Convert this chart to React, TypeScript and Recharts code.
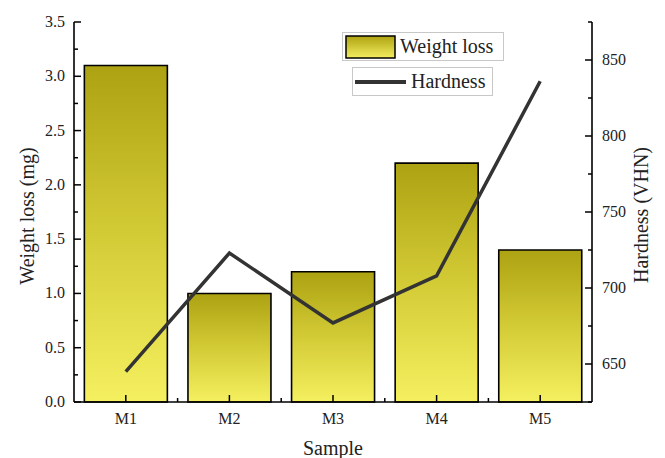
import React from 'react';
import {
  ComposedChart,
  Bar,
  Line,
  XAxis,
  YAxis,
  Legend,
} from 'recharts';

const samples = ['M1', 'M2', 'M3', 'M4', 'M5'];
const weightLoss = [3.1, 1.0, 1.2, 2.2, 1.4];
const hardness = [645, 723, 677, 708, 836];

const leftTicks = [0, 0.25, 0.5, 0.75, 1, 1.25, 1.5, 1.75, 2, 2.25, 2.5, 2.75, 3, 3.25, 3.5];
const rightTicks = [625, 650, 675, 700, 725, 750, 775, 800, 825, 850, 875];

const data = samples.map((s, i) => ({
  sample: s,
  weightLoss: weightLoss[i],
  hardness: hardness[i],
}));

const FONT = '"Liberation Serif", "Times New Roman", serif';
const TEXT = '#222';

const LeftTick = (props: any) => {
  const { x, y, payload } = props;
  const v = payload.value;
  const major = Math.abs(v * 2 - Math.round(v * 2)) < 1e-6;
  return (
    <g>
      <line x1={x} x2={x + (major ? 7 : 4)} y1={y} y2={y} stroke="#000" strokeWidth={1.5} />
      {major && (
        <text x={x - 9} y={y + 5} textAnchor="end" fontSize={16} fill={TEXT} fontFamily={FONT}>
          {v.toFixed(1)}
        </text>
      )}
    </g>
  );
};

const RightTick = (props: any) => {
  const { x, y, payload } = props;
  const v = payload.value;
  const major = v % 50 === 0;
  return (
    <g>
      <line x1={x} x2={x - (major ? 7 : 4)} y1={y} y2={y} stroke="#000" strokeWidth={1.5} />
      {major && (
        <text x={x + 10} y={y + 5} textAnchor="start" fontSize={16} fill={TEXT} fontFamily={FONT}>
          {v}
        </text>
      )}
    </g>
  );
};

const halfBand = (props: any) => {
  const { payload, width, visibleTicksCount } = props;
  if (payload && payload.offset) return payload.offset;
  return width / visibleTicksCount / 2;
};

const BottomTick = (props: any) => {
  const { x, y, payload, index, visibleTicksCount } = props;
  const hb = halfBand(props);
  return (
    <g>
      <line x1={x} x2={x} y1={y} y2={y - 7} stroke="#000" strokeWidth={1.5} />
      {index < visibleTicksCount - 1 && (
        <line x1={x + hb} x2={x + hb} y1={y} y2={y - 4} stroke="#000" strokeWidth={1.5} />
      )}
      <text x={x} y={y + 22} textAnchor="middle" fontSize={16} fill={TEXT} fontFamily={FONT}>
        {payload.value}
      </text>
    </g>
  );
};

const TopTick = (props: any) => {
  const { x, y, index, visibleTicksCount } = props;
  const hb = halfBand(props);
  return (
    <g>
      <line x1={x} x2={x} y1={y} y2={y + 7} stroke="#000" strokeWidth={1.5} />
      {index < visibleTicksCount - 1 && (
        <line x1={x + hb} x2={x + hb} y1={y} y2={y + 4} stroke="#000" strokeWidth={1.5} />
      )}
    </g>
  );
};

const renderLegend = () => (
  <div style={{ position: 'relative', fontFamily: FONT, color: TEXT, fontSize: 20 }}>
    <div
      style={{
        position: 'absolute',
        left: 0,
        top: 0,
        width: 160,
        height: 27,
        border: '1px solid #c8c8c8',
        background: '#fff',
        display: 'flex',
        alignItems: 'center',
        whiteSpace: 'nowrap',
      }}
    >
      <svg width={52} height={24} style={{ marginLeft: 2 }}>
        <defs>
          <linearGradient id="legendGrad" x1="0" y1="0" x2="0" y2="1">
            <stop offset="0%" stopColor="#ada212" />
            <stop offset="100%" stopColor="#f4ef5e" />
          </linearGradient>
        </defs>
        <rect x={1} y={1} width={49} height={22} fill="url(#legendGrad)" stroke="#000" strokeWidth={1.5} />
      </svg>
      <span style={{ marginLeft: 3 }}>Weight loss</span>
    </div>
    <div
      style={{
        position: 'absolute',
        left: 10,
        top: 35,
        width: 139,
        height: 27,
        border: '1px solid #c8c8c8',
        background: '#fff',
        display: 'flex',
        alignItems: 'center',
        whiteSpace: 'nowrap',
      }}
    >
      <svg width={53} height={8} style={{ marginLeft: 1 }}>
        <line x1={1} x2={52} y1={4} y2={4} stroke="#333" strokeWidth={4} />
      </svg>
      <span style={{ marginLeft: 4 }}>Hardness</span>
    </div>
  </div>
);

export default function App() {
  return (
    <div style={{ position: 'absolute', left: 0, top: 0, fontFamily: FONT }}>
      <ComposedChart
        width={665}
        height={458}
        data={data}
        margin={{ top: 22, right: 0, bottom: 0, left: 0 }}
        barCategoryGap="10%"
      >
        <defs>
          <linearGradient id="barGrad" x1="0" y1="0" x2="0" y2="1">
            <stop offset="0%" stopColor="#ada212" />
            <stop offset="50%" stopColor="#d3cb36" />
            <stop offset="100%" stopColor="#f5f060" />
          </linearGradient>
        </defs>
        <XAxis
          xAxisId="cat"
          dataKey="sample"
          height={56}
          stroke="#000"
          axisLine={{ stroke: '#000', strokeWidth: 1.6 }}
          tickLine={false}
          tickSize={0}
          tickMargin={0}
          interval={0}
          tick={<BottomTick />}
          label={(p: any) => {
            const vb = p.viewBox;
            return (
              <text
                x={vb.x + vb.width / 2}
                y={vb.y + 53}
                textAnchor="middle"
                fontSize={20}
                fill={TEXT}
                fontFamily={FONT}
              >
                Sample
              </text>
            );
          }}
        />
        <XAxis
          xAxisId="top"
          dataKey="sample"
          orientation="top"
          height={0}
          stroke="#000"
          axisLine={{ stroke: '#000', strokeWidth: 1.6 }}
          tickLine={false}
          tickSize={0}
          tickMargin={0}
          interval={0}
          tick={<TopTick />}
        />
        <YAxis
          yAxisId="left"
          width={74}
          domain={[0, 3.5]}
          ticks={leftTicks}
          interval={0}
          stroke="#000"
          axisLine={{ stroke: '#000', strokeWidth: 1.6 }}
          tickLine={false}
          tickSize={0}
          tickMargin={0}
          tick={<LeftTick />}
          label={(p: any) => {
            const vb = p.viewBox;
            const cx = vb.x + 27;
            const cy = vb.y + vb.height / 2 + 4;
            return (
              <text
                x={cx}
                y={cy}
                transform={`rotate(-90 ${cx} ${cy})`}
                textAnchor="middle"
                dominantBaseline="central"
                fontSize={20}
                fill={TEXT}
                fontFamily={FONT}
              >
                Weight loss (mg)
              </text>
            );
          }}
        />
        <YAxis
          yAxisId="right"
          orientation="right"
          width={73}
          domain={[625, 875]}
          ticks={rightTicks}
          interval={0}
          stroke="#000"
          axisLine={{ stroke: '#000', strokeWidth: 1.6 }}
          tickLine={false}
          tickSize={0}
          tickMargin={0}
          tick={<RightTick />}
          label={(p: any) => {
            const vb = p.viewBox;
            const cx = vb.x + 49;
            const cy = vb.y + vb.height / 2 + 3;
            return (
              <text
                x={cx}
                y={cy}
                transform={`rotate(-90 ${cx} ${cy})`}
                textAnchor="middle"
                dominantBaseline="central"
                fontSize={20}
                fill={TEXT}
                fontFamily={FONT}
              >
                Hardness (VHN)
              </text>
            );
          }}
        />
        <Legend
          layout="vertical"
          align="center"
          verticalAlign="middle"
          content={renderLegend}
          wrapperStyle={{ left: 342, top: 32, width: 170, height: 64 }}
        />
        <Bar
          xAxisId="cat"
          yAxisId="left"
          dataKey="weightLoss"
          name="Weight loss"
          fill="url(#barGrad)"
          stroke="#000"
          strokeWidth={1.6}
          isAnimationActive={false}
        />
        <Line
          xAxisId="top"
          yAxisId="right"
          dataKey="hardness"
          name="Hardness"
          type="linear"
          stroke="#333"
          strokeWidth={3.5}
          dot={false}
          activeDot={false}
          isAnimationActive={false}
        />
      </ComposedChart>
    </div>
  );
}
